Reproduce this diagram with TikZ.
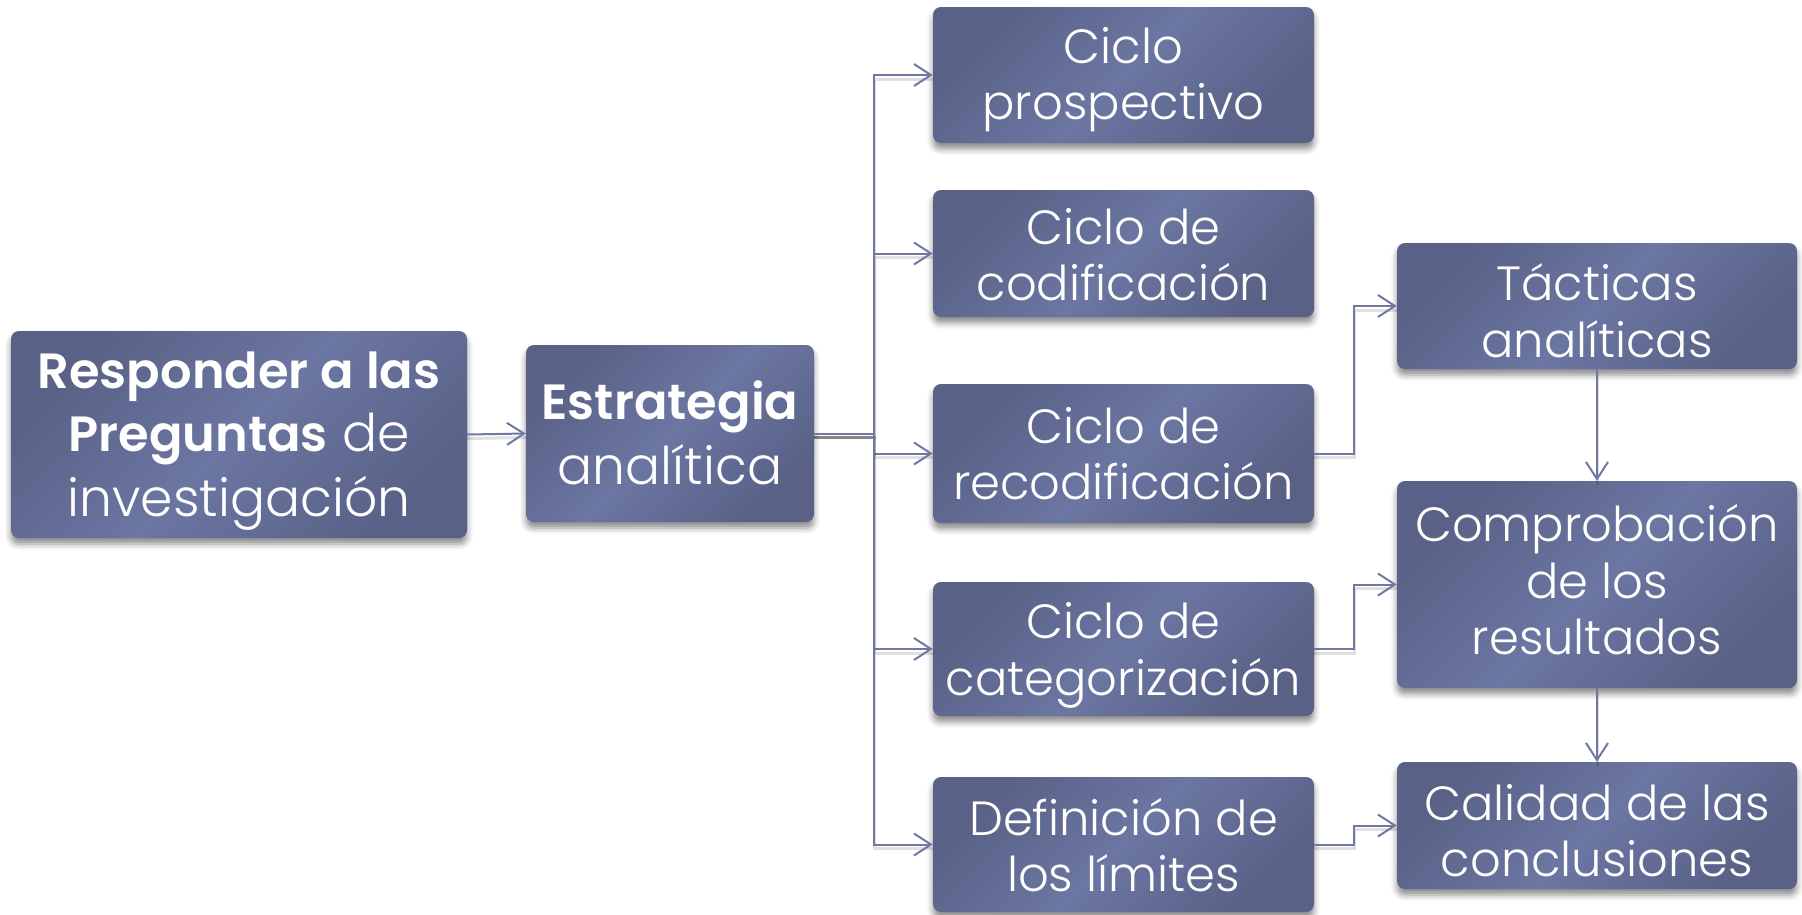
\documentclass[tikz,border=0pt]{standalone}
\usepackage{fontspec}
\setmainfont{Poppins}[UprightFont={* Light},BoldFont={* SemiBold}]
\usetikzlibrary{arrows.meta,shadows.blur}
\definecolor{boxdark}{HTML}{596186}
\definecolor{boxlight}{HTML}{6B76A2}
\definecolor{linecol}{HTML}{6E78A2}
\newcommand{\mystrut}{\rule[-0.2\baselineskip]{0pt}{\baselineskip}}
\newcommand{\topstrut}[1]{\rule[-0.2\baselineskip]{0pt}{\dimexpr\baselineskip+#1\relax}}
\newcommand{\botstrut}[1]{\rule[\dimexpr-0.2\baselineskip-#1\relax]{0pt}{\dimexpr\baselineskip+#1\relax}}
\newcommand{\bt}[1]{{\fontsize{49.5}{63}\selectfont\bfseries #1}}
\tikzset{
  box/.style={rounded corners=8pt, top color=boxdark, bottom color=boxdark, middle color=boxlight, shading angle=45, text=white, align=center, inner sep=0pt, blur shadow={shadow xshift=0pt, shadow yshift=-6pt, shadow blur radius=6pt, shadow opacity=45}},
  bigtxt/.style={font=\fontsize{52}{63}\selectfont},
  smalltxt/.style={font=\fontsize{48}{56.5}\selectfont},
  colbox/.style={box, smalltxt, minimum width=381pt},
  farbox/.style={box, smalltxt, minimum width=400pt},
  conn/.style={draw=linecol, line width=2pt, -{Straight Barb[length=17pt,width=22pt,line width=2pt]},
    preaction={draw=black, -, line width=3pt, draw opacity=0.12, transform canvas={yshift=-4pt}}},
}
\begin{document}
\begin{tikzpicture}[x=1pt,y=-1pt]
\useasboundingbox (0,0) rectangle (1802,914);
\node[box, bigtxt, minimum width=456pt, minimum height=207pt] (resp) at (239,434.5) {\mystrut\bt{Responder a las}\\\bt{Preguntas} de\\investigación\mystrut};
\node[box, bigtxt, minimum width=288pt, minimum height=177pt] (estr) at (670,433.5) {\mystrut\bt{Estrategia}\\analítica\mystrut};
\node[colbox, minimum height=136pt] (c1) at (1123.5,75) {\mystrut Ciclo\\prospectivo\mystrut};
\node[colbox, minimum height=127pt] (c2) at (1123.5,253.5) {\topstrut{4pt}Ciclo de\\codificación\mystrut};
\node[colbox, minimum height=139pt] (c3) at (1123.5,453.5) {\topstrut{2pt}Ciclo de\\recodificación\mystrut};
\node[colbox, minimum height=134pt] (c4) at (1123.5,649) {\topstrut{4pt}Ciclo de\\categorización\mystrut};
\node[colbox, minimum height=135pt] (c5) at (1123.5,844.5) {\topstrut{4pt}Definición de\\los límites\mystrut};
\node[farbox, minimum height=126pt] (t) at (1597,306) {\topstrut{12pt}Tácticas\\analíticas\mystrut};
\node[farbox, minimum height=207pt] (comp) at (1597,584.5) {\mystrut Comprobación\\de los\\resultados\botstrut{6pt}};
\node[farbox, minimum height=127pt] (cal) at (1597,825.5) {\topstrut{12pt}Calidad de las\\conclusiones\mystrut};
\draw[conn] (resp.east) -- (estr.west);
\foreach \n in {c1,c2,c3,c4,c5}{
  \draw[conn] (estr.east) -- ++(60,0) |- (\n.west);
}
\draw[conn] (c3.east) -- ++(40,0) |- (t.west);
\draw[conn] (c4.east) -- ++(40,0) |- (comp.west);
\draw[conn] (c5.east) -- ++(40,0) |- (cal.west);
\draw[conn] (t.south) -- (comp.north);
\draw[conn] (comp.south) -- (cal.north);
\end{tikzpicture}
\end{document}
